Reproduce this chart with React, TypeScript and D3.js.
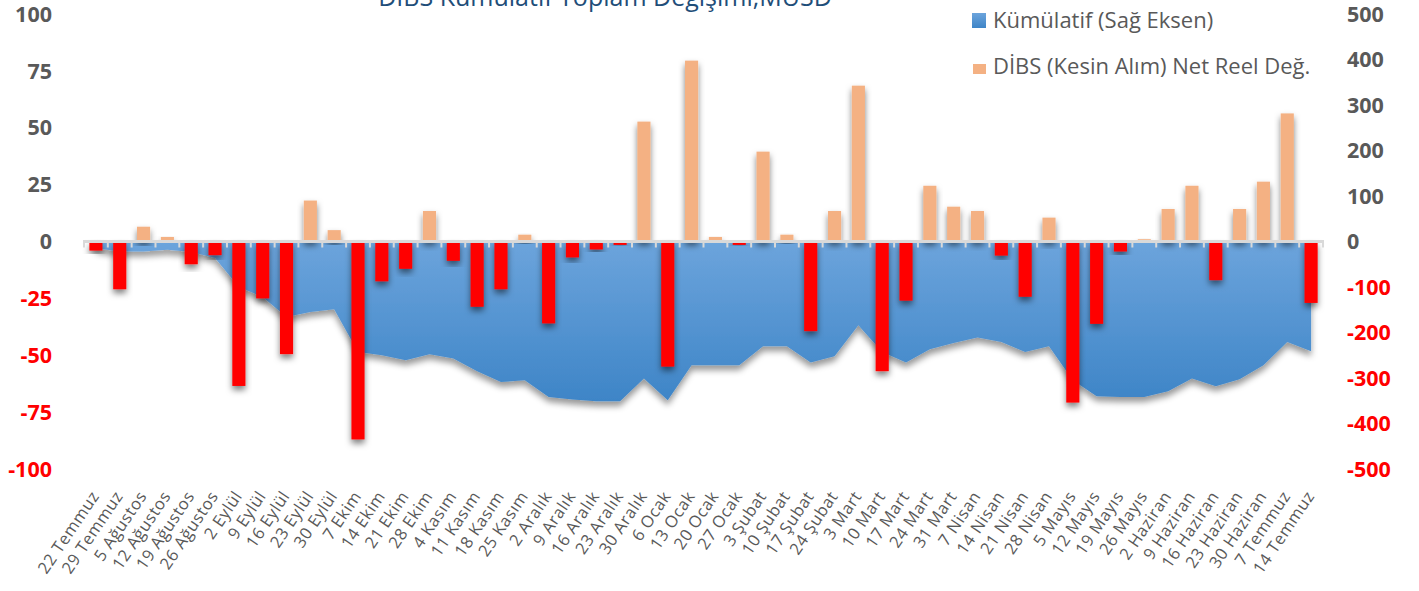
import React, { useEffect, useRef } from 'react';
import * as d3 from 'd3';

const categories = [
  '22 Temmuz', '29 Temmuz', '5 Ağustos', '12 Ağustos', '19 Ağustos', '26 Ağustos',
  '2 Eylül', '9 Eylül', '16 Eylül', '23 Eylül', '30 Eylül',
  '7 Ekim', '14 Ekim', '21 Ekim', '28 Ekim',
  '4 Kasım', '11 Kasım', '18 Kasım', '25 Kasım',
  '2 Aralık', '9 Aralık', '16 Aralık', '23 Aralık', '30 Aralık',
  '6 Ocak', '13 Ocak', '20 Ocak', '27 Ocak',
  '3 Şubat', '10 Şubat', '17 Şubat', '24 Şubat',
  '3 Mart', '10 Mart', '17 Mart', '24 Mart', '31 Mart',
  '7 Nisan', '14 Nisan', '21 Nisan', '28 Nisan',
  '5 Mayıs', '12 Mayıs', '19 Mayıs', '26 Mayıs',
  '2 Haziran', '9 Haziran', '16 Haziran', '23 Haziran', '30 Haziran',
  '7 Temmuz', '14 Temmuz',
];

// weekly net change, left axis (MUSD)
const weekly = [
  -4, -21, 6.5, 2, -10, -6,
  -63.5, -25, -49.5, 18, 5,
  -87, -17.5, -12, 13.4,
  -8.5, -28.7, -21, 3,
  -36, -7, -3.5, -1.5, 52.7,
  -55, 79.5, 2, -1.5,
  39.5, 3, -39.4, 13.4,
  68.5, -57, -26, 24.5, 15.3,
  13.4, -6.2, -24.3, 10.5,
  -70.8, -36.2, -4.4, 1,
  14.3, 24.5, -17, 14.3, 26.3,
  56.3, -27,
];

// cumulative, right axis (MUSD)
const cumulative = [
  -15, -22, -22, -18, -23, -36,
  -100, -122, -166, -155, -149,
  -243, -250, -261, -248,
  -257, -285, -309, -305,
  -342, -347, -351, -351, -301,
  -349, -272, -272, -272,
  -230, -230, -266, -252,
  -184, -243, -266, -237, -223,
  -211, -221, -243, -230,
  -305, -340, -342, -342,
  -329, -301, -318, -303, -272,
  -221, -241,
];

const leftTicks = [100, 75, 50, 25, 0, -25, -50, -75, -100];
const rightTicks = [500, 400, 300, 200, 100, 0, -100, -200, -300, -400, -500];

const title = 'DİBS Kümülatif Toplam Değişimi,MUSD';
const legendItems = ['Kümülatif (Sağ Eksen)', 'DİBS (Kesin Alım) Net Reel Değ.'];

const FONT = "'Open Sans', sans-serif";
const GRAY = '#595959';

const App: React.FC = () => {
  const ref = useRef<SVGSVGElement>(null);

  useEffect(() => {
    const svg = d3.select(ref.current);
    svg.selectAll('*').remove();

    const x = d3.scaleBand<string>().domain(categories).range([84, 1323]).padding(0);
    const yL = d3.scaleLinear().domain([-100, 100]).range([469, 14]);
    const yR = d3.scaleLinear().domain([-500, 500]).range([469, 14]);
    const cx = (d: string) => (x(d) as number) + x.bandwidth() / 2;
    const barW = x.bandwidth() * 0.55;

    const defs = svg.append('defs');
    const grad = defs.append('linearGradient')
      .attr('id', 'areaGrad')
      .attr('gradientUnits', 'userSpaceOnUse')
      .attr('x1', 0).attr('x2', 0)
      .attr('y1', yR(0)).attr('y2', yR(-350));
    grad.append('stop').attr('offset', '0%').attr('stop-color', '#6CA4DC');
    grad.append('stop').attr('offset', '100%').attr('stop-color', '#3E85C7');

    const legGrad = defs.append('linearGradient')
      .attr('id', 'legGrad').attr('x1', 0).attr('x2', 0).attr('y1', 0).attr('y2', 1);
    legGrad.append('stop').attr('offset', '0%').attr('stop-color', '#6CA4DC');
    legGrad.append('stop').attr('offset', '100%').attr('stop-color', '#3E85C7');

    const shadow = defs.append('filter').attr('id', 'shadow')
      .attr('x', '-50%').attr('y', '-20%').attr('width', '200%').attr('height', '150%');
    shadow.append('feDropShadow')
      .attr('dx', 0).attr('dy', 4).attr('stdDeviation', 3)
      .attr('flood-color', '#000').attr('flood-opacity', 0.5);

    const areaShadow = defs.append('filter').attr('id', 'areaShadow')
      .attr('x', '-5%').attr('y', '-10%').attr('width', '110%').attr('height', '130%');
    areaShadow.append('feDropShadow')
      .attr('dx', 0).attr('dy', 5).attr('stdDeviation', 3)
      .attr('flood-color', '#000').attr('flood-opacity', 0.4);

    // title, cut at the top edge as in the source image
    svg.append('text')
      .attr('x', 605).attr('y', 6)
      .attr('text-anchor', 'middle')
      .attr('font-family', FONT).attr('font-size', 25)
      .attr('fill', '#1F4E79')
      .text(title);

    // cumulative area
    const area = d3.area<number>()
      .x((_, i) => cx(categories[i]))
      .y0(yR(0))
      .y1(d => yR(d));
    svg.append('path')
      .datum(cumulative)
      .attr('d', area)
      .attr('fill', 'url(#areaGrad)')
      .attr('filter', 'url(#areaShadow)');

    // weekly bars
    svg.append('g')
      .selectAll('rect')
      .data(weekly)
      .enter()
      .append('rect')
      .attr('x', (_, i) => cx(categories[i]) - barW / 2)
      .attr('y', d => yL(Math.max(0, d)))
      .attr('width', barW)
      .attr('height', d => Math.abs(yL(d) - yL(0)))
      .attr('fill', d => (d < 0 ? '#FF0000' : '#F4B183'))
      .attr('filter', 'url(#shadow)');

    // zero line + ticks between categories
    const axisG = svg.append('g');
    axisG.append('line')
      .attr('x1', 83).attr('x2', 1324)
      .attr('y1', yL(0)).attr('y2', yL(0))
      .attr('stroke', '#D9D9D9').attr('stroke-width', 3);
    axisG.selectAll('line.tick')
      .data(d3.range(categories.length + 1))
      .enter()
      .append('line')
      .attr('class', 'tick')
      .attr('x1', i => 84 + i * x.step())
      .attr('x2', i => 84 + i * x.step())
      .attr('y1', yL(0)).attr('y2', yL(0) + 6)
      .attr('stroke', '#D9D9D9').attr('stroke-width', 2);

    // left axis labels
    svg.append('g')
      .selectAll('text')
      .data(leftTicks)
      .enter()
      .append('text')
      .attr('x', 52)
      .attr('y', d => yL(d))
      .attr('dy', '0.36em')
      .attr('text-anchor', 'end')
      .attr('font-family', FONT).attr('font-size', 21.5).attr('font-weight', 'bold')
      .attr('fill', d => (d < 0 ? '#FF0000' : GRAY))
      .text(d => d);

    // right axis labels
    svg.append('g')
      .selectAll('text')
      .data(rightTicks)
      .enter()
      .append('text')
      .attr('x', 1347)
      .attr('y', d => yR(d))
      .attr('dy', '0.36em')
      .attr('text-anchor', 'start')
      .attr('font-family', FONT).attr('font-size', 21.5).attr('font-weight', 'bold')
      .attr('fill', d => (d < 0 ? '#FF0000' : GRAY))
      .text(d => d);

    // category labels
    svg.append('g')
      .selectAll('text')
      .data(categories)
      .enter()
      .append('text')
      .attr('transform', d => `translate(${cx(d) + 4}, 496) rotate(-56)`)
      .attr('text-anchor', 'end')
      .attr('font-family', FONT).attr('font-size', 16.5)
      .attr('letter-spacing', 0.6)
      .attr('fill', GRAY)
      .text(d => d);

    // legend
    const leg = svg.append('g');
    leg.append('rect').attr('x', 972).attr('y', 13).attr('width', 14).attr('height', 15)
      .attr('fill', 'url(#legGrad)');
    leg.append('rect').attr('x', 973).attr('y', 64).attr('width', 13).attr('height', 10)
      .attr('fill', '#F4B183');
    leg.selectAll('text')
      .data(legendItems)
      .enter()
      .append('text')
      .attr('x', 993)
      .attr('y', (_, i) => (i === 0 ? 20 : 66))
      .attr('dy', '0.36em')
      .attr('font-family', FONT).attr('font-size', 22)
      .attr('fill', GRAY)
      .text(d => d);
  }, []);

  return (
    <div style={{ position: 'absolute', left: 0, top: 0 }}>
      <svg ref={ref} width={1419} height={591} style={{ display: 'block', background: '#fff' }} />
    </div>
  );
};

export default App;
